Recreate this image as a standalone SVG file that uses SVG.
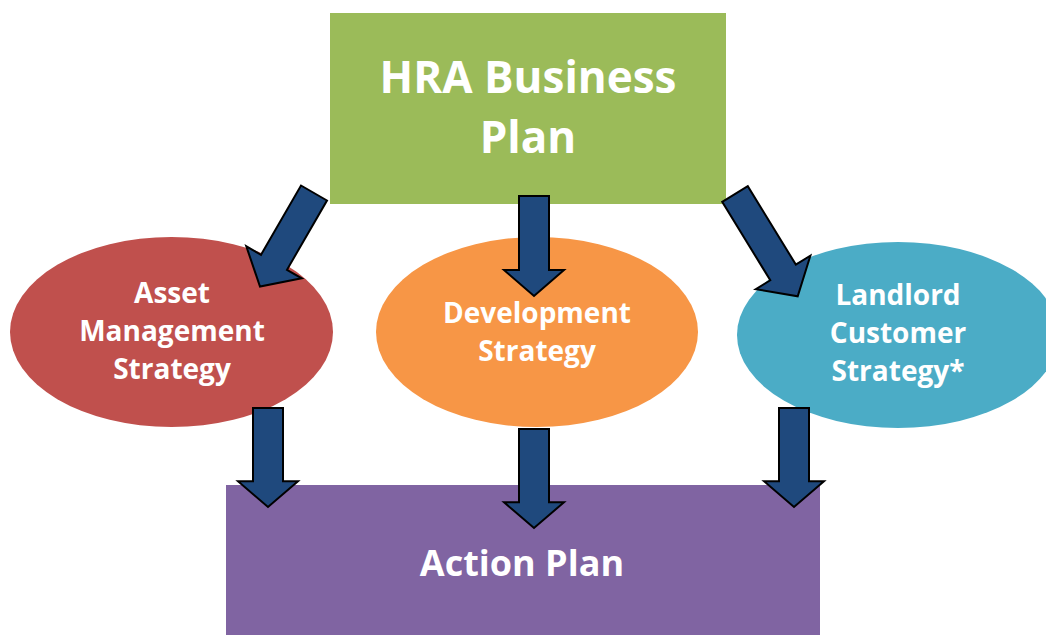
<svg xmlns="http://www.w3.org/2000/svg" width="1046" height="635" viewBox="0 0 1046 635">
  <style>
    .lbl { font-family: "Open Sans", "Liberation Sans", sans-serif; font-weight: bold; fill: #FFFFFF; text-anchor: middle; }
    .arrow { fill: #1F497D; stroke: #000000; stroke-width: 2; stroke-linejoin: miter; }
  </style>
  <defs>
    <polygon id="arrV" points="-15,0 15,0 15,74 30,74 0,100 -30,74 -15,74"/>
  </defs>
  <rect width="1046" height="635" fill="#FFFFFF"/>

  <g id="hra-business-plan">
    <rect x="330" y="13" width="396" height="191" fill="#9BBB59"/>
    <text class="lbl" x="528" y="93" font-size="44">HRA Business</text>
    <text class="lbl" x="528" y="153" font-size="44">Plan</text>
  </g>

  <g id="asset-management-strategy">
    <ellipse cx="171.5" cy="332" rx="161.5" ry="95" fill="#C0504D"/>
    <text class="lbl" x="172" y="303" font-size="28">Asset</text>
    <text class="lbl" x="172" y="341" font-size="28">Management</text>
    <text class="lbl" x="172" y="379" font-size="28">Strategy</text>
  </g>

  <g id="development-strategy">
    <ellipse cx="537" cy="332" rx="161" ry="95" fill="#F79646"/>
    <text class="lbl" x="537" y="323" font-size="28">Development</text>
    <text class="lbl" x="537" y="361" font-size="28">Strategy</text>
  </g>

  <g id="landlord-customer-strategy">
    <ellipse cx="898" cy="335" rx="161" ry="93" fill="#4BACC6"/>
    <text class="lbl" x="898" y="305" font-size="28">Landlord</text>
    <text class="lbl" x="898" y="343" font-size="28">Customer</text>
    <text class="lbl" x="898" y="381" font-size="28">Strategy*</text>
  </g>

  <g id="action-plan">
    <rect x="226" y="485" width="594" height="160" fill="#8064A2"/>
    <text class="lbl" x="522" y="576" font-size="36">Action Plan</text>
  </g>

  <g id="connectors">
    <polygon class="arrow" transform="translate(314,193) rotate(30)" points="-15,0 15,0 15,80 32,80 0,108 -32,80 -15,80"/>
    <use href="#arrV" class="arrow" transform="translate(534,196)"/>
    <polygon class="arrow" transform="translate(735,194) rotate(-31.5)" points="-15,0 15,0 15,92 32,92 0,120 -32,92 -15,92"/>
    <use href="#arrV" class="arrow" transform="translate(268,408) scale(1,0.99)"/>
    <use href="#arrV" class="arrow" transform="translate(534,429) scale(1,0.99)"/>
    <use href="#arrV" class="arrow" transform="translate(794,408) scale(1,0.99)"/>
  </g>
</svg>
